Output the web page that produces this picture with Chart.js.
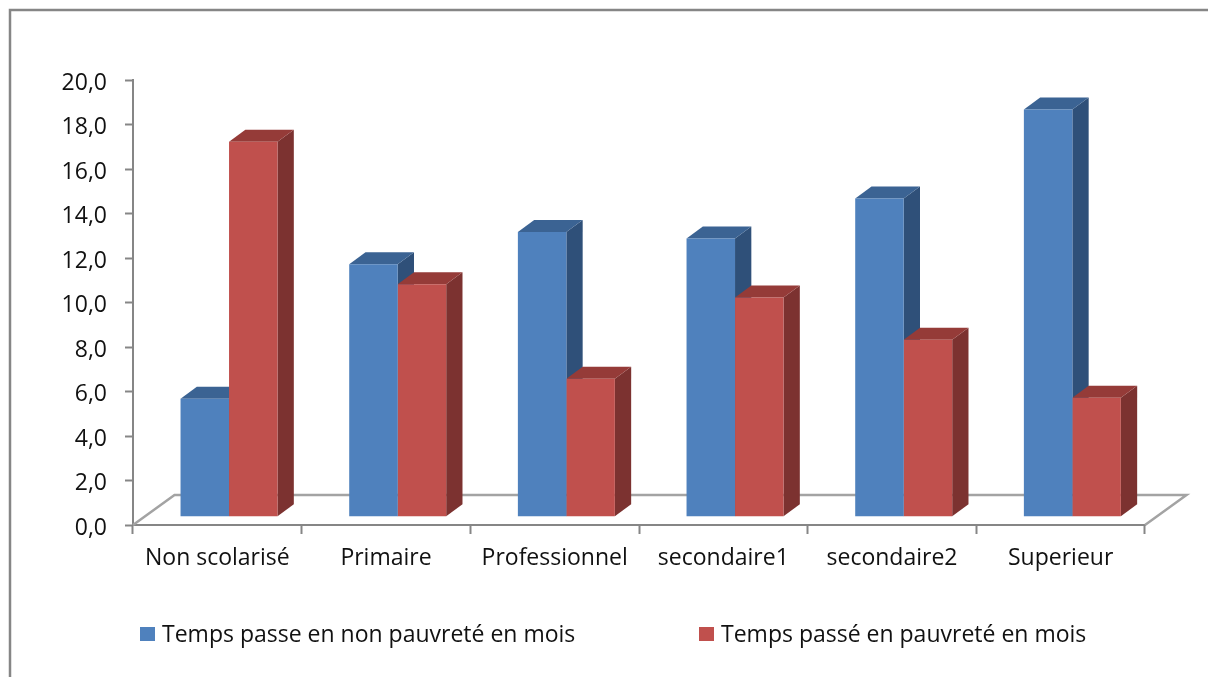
<!DOCTYPE html>
<html lang="fr">
<head>
<meta charset="utf-8">
<title>Temps passé en pauvreté</title>
<style>
html,body{margin:0;padding:0;background:#fff;overflow:hidden}
canvas{display:block}
</style>
<script src="https://cdn.jsdelivr.net/npm/chart.js@4/dist/chart.umd.min.js"></script>
</head>
<body>
<canvas id="c" width="1208" height="677"></canvas>
<script>
const categories = ["Non scolarisé","Primaire","Professionnel","secondaire1","secondaire2","Superieur"];
const nonPauvrete = [5.3,11.35,12.8,12.5,14.3,18.3];
const pauvrete = [16.85,10.45,6.2,9.85,7.95,5.35];
const seriesLabels = ["Temps passe en non pauvreté en mois","Temps passé en pauvreté en mois"];

const FONT = '"Open Sans", Lato, sans-serif';
const GRAY = '#868686';
const FACES = [
  {front:'#4F81BD', side:'#2F5079', top:'#3B6393'},
  {front:'#C0504D', side:'#7C3230', top:'#953B38'}
];
const SHIFT = {x:11.7, y:-8.3};   // front plane of the bars relative to the axes
const DEPTH = {x:16.3, y:-12};    // depth of a bar
const FLOOR = {x:41.5, y:-30};    // depth of the floor
const AREA = {left:133, right:1145, top:80, bottom:525};

const scene3d = {
  id:'scene3d',
  beforeDatasetsDraw(chart){
    const ctx = chart.ctx, a = chart.chartArea;
    ctx.save();
    // frame
    ctx.strokeStyle = GRAY; ctx.lineWidth = 2.5;
    ctx.beginPath(); ctx.moveTo(10,677); ctx.lineTo(10,10); ctx.lineTo(1208,10); ctx.stroke();
    // floor
    ctx.strokeStyle = '#A3A3A3'; ctx.lineWidth = 2.5;
    ctx.beginPath();
    ctx.moveTo(a.left,a.bottom);
    ctx.lineTo(a.left+FLOOR.x,a.bottom+FLOOR.y);
    ctx.lineTo(a.right+FLOOR.x,a.bottom+FLOOR.y);
    ctx.lineTo(a.right,a.bottom);
    ctx.stroke();
    // side and top faces
    ctx.translate(SHIFT.x,SHIFT.y);
    categories.forEach((_,i)=>{
      chart.data.datasets.forEach((ds,d)=>{
        const p = chart.getDatasetMeta(d).data[i].getProps(['x','y','base','width'],true);
        const l = p.x-p.width/2, r = p.x+p.width/2;
        ctx.fillStyle = FACES[d].side;
        ctx.beginPath();
        ctx.moveTo(r,p.base); ctx.lineTo(r+DEPTH.x,p.base+DEPTH.y);
        ctx.lineTo(r+DEPTH.x,p.y+DEPTH.y); ctx.lineTo(r,p.y); ctx.closePath(); ctx.fill();
        ctx.fillStyle = FACES[d].top;
        ctx.beginPath();
        ctx.moveTo(l,p.y); ctx.lineTo(l+DEPTH.x,p.y+DEPTH.y);
        ctx.lineTo(r+DEPTH.x,p.y+DEPTH.y); ctx.lineTo(r,p.y); ctx.closePath(); ctx.fill();
      });
    });
    ctx.restore();
    ctx.save();
    ctx.translate(SHIFT.x,SHIFT.y);
  },
  afterDatasetsDraw(chart){
    const ctx = chart.ctx;
    ctx.restore();
    // legend
    ctx.save();
    ctx.font = '23px '+FONT;
    ctx.textBaseline = 'middle';
    ctx.textAlign = 'left';
    const xs = [140,699];
    chart.data.datasets.forEach((ds,d)=>{
      ctx.fillStyle = ds.backgroundColor;
      ctx.fillRect(xs[d],627,15,14);
      ctx.fillStyle = '#111';
      ctx.fillText(ds.label,xs[d]+22,635);
    });
    ctx.restore();
  }
};

new Chart(document.getElementById('c'),{
  type:'bar',
  data:{
    labels:categories,
    datasets:[
      {label:seriesLabels[0],data:nonPauvrete,backgroundColor:FACES[0].front},
      {label:seriesLabels[1],data:pauvrete,backgroundColor:FACES[1].front}
    ]
  },
  plugins:[scene3d],
  options:{
    responsive:false,
    animation:false,
    events:[],
    layout:{padding:{left:0,right:1208-AREA.right,top:AREA.top,bottom:0}},
    datasets:{bar:{categoryPercentage:0.575,barPercentage:1,clip:false}},
    plugins:{legend:{display:false},tooltip:{enabled:false}},
    scales:{
      x:{
        afterFit(s){s.height=677-AREA.bottom;},
        border:{color:GRAY,width:2},
        grid:{drawOnChartArea:false,drawTicks:true,tickLength:9,tickColor:GRAY,tickWidth:2},
        ticks:{color:'#111',font:{family:FONT,size:23},padding:11,maxRotation:0,autoSkip:false}
      },
      y:{
        min:0,max:20,
        afterFit(s){s.width=AREA.left;},
        border:{color:GRAY,width:2},
        grid:{drawOnChartArea:false,drawTicks:true,tickLength:8,tickColor:GRAY,tickWidth:2},
        ticks:{stepSize:2,color:'#111',font:{family:FONT,size:23},padding:18,labelOffset:3,
          callback:v=>v.toFixed(1).replace('.',',')}
      }
    }
  }
});
</script>
</body>
</html>
